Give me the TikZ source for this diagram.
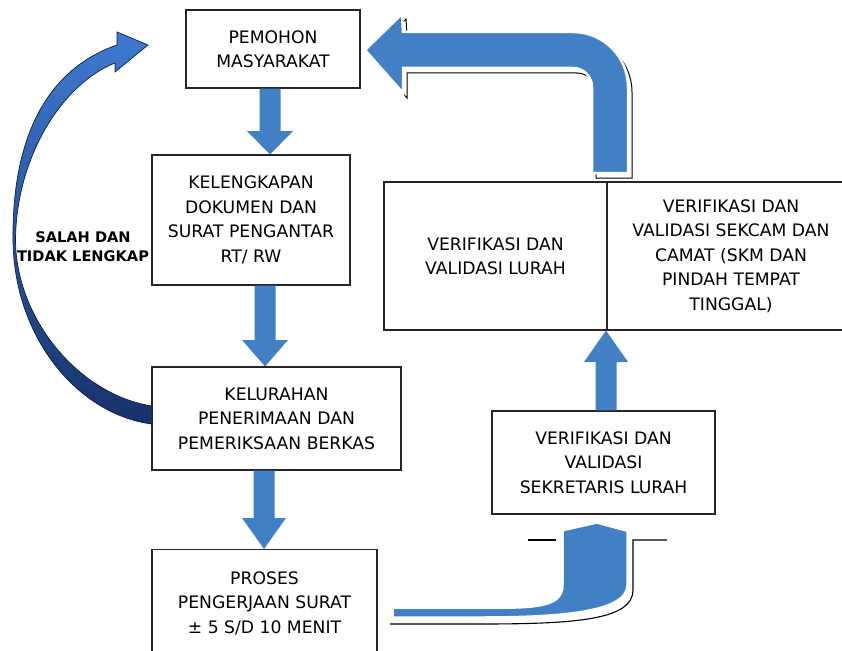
\documentclass[tikz,border=0pt]{standalone}
\usepackage{fontspec}
\setmainfont{DejaVu Sans}
\usetikzlibrary{calc}
\definecolor{ablue}{RGB}{66,128,198}
\definecolor{navy}{RGB}{22,50,108}
\definecolor{midnavy}{RGB}{32,68,140}
\definecolor{lblue}{RGB}{62,122,208}
\begin{document}
\begin{tikzpicture}[x=1pt,y=-1pt,
  box/.style={draw=black!85, line width=1.1pt, fill=white, align=center,
    font=\fontsize{17.2}{24.5}\selectfont, inner sep=0pt},
  blockarrow/.style={fill=ablue},
  shadowline/.style={draw=black, line width=1.1pt},
  ]
\useasboundingbox (0,0) rectangle (842,650);
\clip (0,0) rectangle (842,650);
\fill[white] (0,0) rectangle (842,650);

% boxes
\node[box, minimum width=174pt, minimum height=78pt] (pem) at (273,49) {PEMOHON\\MASYARAKAT};
\node[box, minimum width=198pt, minimum height=130pt] (kel) at (251,220) {KELENGKAPAN\\DOKUMEN DAN\\SURAT PENGANTAR\\RT/ RW};
\node[box, minimum width=249pt, minimum height=103pt] (kelur) at (276.5,418.5) {KELURAHAN\\PENERIMAAN DAN\\PEMERIKSAAN BERKAS};
\node[box, minimum width=225pt, inner ysep=22pt, anchor=north] (proses) at (264.5,549) {PROSES\\PENGERJAAN SURAT\\± 5 S/D 10 MENIT};
\node[box, minimum width=223pt, minimum height=103pt] (sek) at (603.5,462.5) {VERIFIKASI DAN\\VALIDASI\\SEKRETARIS LURAH};
\node[box, minimum width=223pt, minimum height=148pt] (lurah) at (495.5,256) {VERIFIKASI DAN\\VALIDASI LURAH};
\node[box, minimum width=248pt, minimum height=148pt] (sekcam) at (731,256) {VERIFIKASI DAN\\VALIDASI SEKCAM DAN\\CAMAT (SKM DAN\\PINDAH TEMPAT\\TINGGAL)};

% straight block arrows
\fill[blockarrow] (259.5,0 |- pem.south) -- (259.5,131) -- (247,131) -- (270,0 |- kel.north) -- (293,131) -- (280.5,131) -- (280.5,0 |- pem.south) -- cycle;
\fill[blockarrow] (254.5,0 |- kel.south) -- (254.5,340) -- (242,340) -- (265,0 |- kelur.north) -- (288,340) -- (275.5,340) -- (275.5,0 |- kel.south) -- cycle;
\fill[blockarrow] (253.5,0 |- kelur.south) -- (253.5,518) -- (242,518) -- (264,0 |- proses.north) -- (286,518) -- (274.5,518) -- (274.5,0 |- kelur.south) -- cycle;
\fill[blockarrow] (595.5,0 |- sek.north) -- (595.5,362) -- (584,362) -- (606,0 |- lurah.south east) -- (628,362) -- (616.5,362) -- (616.5,0 |- sek.north) -- cycle;

% curved return arrow
\draw[draw=navy!60!black, line width=0.7pt, top color=lblue, middle color=midnavy, bottom color=navy]
  (152,424) .. controls (80,415) and (14,340) .. (13,240)
  .. controls (12,140) and (45,70) .. (117,45) -- (117,32) -- (148,45) -- (115,72) -- (115,63)
  .. controls (60,85) and (16,160) .. (15.5,240)
  .. controls (16,320) and (80,395) .. (152,406) -- cycle;

\node[font=\bfseries\fontsize{14.6}{19}\selectfont, align=center, inner sep=0pt] (salah) at (83,247) {SALAH DAN\\TIDAK LENGKAP};

% top bent arrow with shadow
\def\toparrowpath{(365,50) -- (402,14) -- (403,32) -- (573,32) .. controls (603.4,32) and (628,56.6) .. (628,87) -- (628,173) -- (592,173) -- (592,87) .. controls (592,76.5) and (583.5,68) .. (573,68) -- (403,68) -- (403,93) -- cycle}
\draw[black, line width=1pt, shift={(4,5)}] \toparrowpath;
\draw[fill=ablue, draw=white, line width=2.5pt] \toparrowpath;

% bottom bent arrow with shadow
\draw[shadowline] (390,624) -- (480,624) .. controls (575,624) and (633,620) .. (633,590) -- (633,540) -- (667,540);
\draw[shadowline] (528,540) -- (556,540);
\draw[fill=ablue, draw=white, line width=1.5pt] (393,608) -- (515,608) .. controls (552,607) and (563,600) .. (563,585) -- (563,532) -- (557,532) -- (597,523) -- (630,532) -- (627,532) -- (627,585) .. controls (627,612) and (560,617) .. (480,617) -- (393,617) -- cycle;
\end{tikzpicture}
\end{document}
